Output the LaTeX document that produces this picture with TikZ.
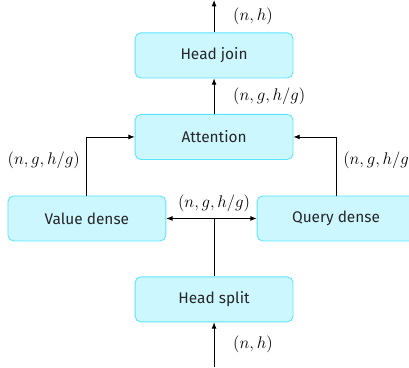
\documentclass[tikz,border=0pt]{standalone}
\usepackage{fontspec}
\newfontfamily\boxfont{Fira Sans}
\usetikzlibrary{arrows.meta,positioning}
\definecolor{boxfill}{RGB}{204,247,255}
\definecolor{boxline}{RGB}{90,228,255}
\begin{document}
\begin{tikzpicture}[>={Latex[length=4.5pt,width=3.5pt]},
  every node/.style={font=\fontsize{11.5}{14}\selectfont},
  layer/.style={rectangle,draw=boxline,fill=boxfill,rounded corners=4pt,
    minimum width=3.96cm,minimum height=1.13cm,
    font=\boxfont\fontsize{11}{13}\selectfont,text=black!85,semithick},
  flow/.style={->,semithick},
  dims/.style={inner sep=2pt}]
\useasboundingbox (-5.37,1.39) rectangle (4.89,-7.82);
\node[layer] (headjoin) at (0,0) {Head join};
\node[layer] (attn) at (0,-2.045) {Attention};
\node[layer] (value) at (-3.19,-4.09) {Value dense};
\node[layer] (query) at (3.06,-4.09) {Query dense};
\node[layer] (split) at (0,-6.12) {Head split};
\coordinate (out) at (0,1.39);
\coordinate (in) at (0,-7.82);
\coordinate (fork) at (0,-4.09);

\draw[flow] (in) -- node[dims,right=0.4cm] {$(n,h)$} (split);
\draw[semithick] (split) -- (fork);
\draw[flow] (fork) -- (value);
\draw[flow] (fork) -- (query);
\node[dims,above=0.08cm of fork] {$(n,g,h/g)$};
\draw[flow] (value) |- node[dims,pos=0.3,left=0.1cm] {$(n,g,h/g)$} (attn);
\draw[flow] (query) |- node[dims,pos=0.3,right=0.1cm] {$(n,g,h/g)$} (attn);
\draw[flow] (attn) -- node[dims,right=0.4cm] {$(n,g,h/g)$} (headjoin);
\draw[flow] (headjoin) -- node[dims,right=0.4cm] {$(n,h)$} (out);
\end{tikzpicture}
\end{document}
